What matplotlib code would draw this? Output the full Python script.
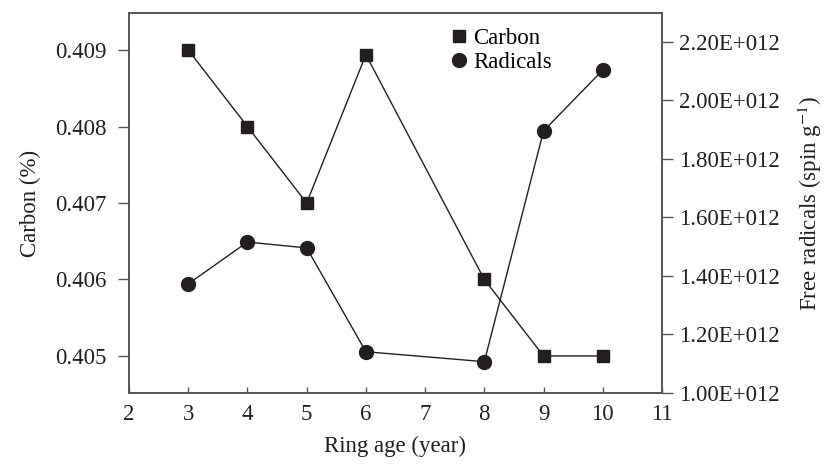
import matplotlib
matplotlib.use("Agg")
import matplotlib.pyplot as plt
from matplotlib.ticker import FuncFormatter, FixedLocator
from matplotlib.lines import Line2D

plt.rcParams["font.family"] = ["Liberation Serif", "DejaVu Serif"]
plt.rcParams["mathtext.fontset"] = "stix"

# Ring age (years)
ring_age_carbon = [3, 4, 5, 6, 8, 9, 10]
carbon_pct = [0.409, 0.408, 0.407, 0.40894, 0.406, 0.405, 0.405]

ring_age_radicals = [3, 4, 5, 6, 8, 9, 10]
radicals = [1.373e12, 1.516e12, 1.496e12, 1.141e12, 1.107e12, 1.896e12, 2.104e12]

x_ticks = [2, 3, 4, 5, 6, 7, 8, 9, 10, 11]
carbon_ticks = [0.405, 0.406, 0.407, 0.408, 0.409]
radical_ticks = [1.0e12, 1.2e12, 1.4e12, 1.6e12, 1.8e12, 2.0e12, 2.2e12]

ink = "#231f20"
spine_col = "#555555"
fs = 16.5

fig = plt.figure(figsize=(8.35, 4.66), dpi=100)
ax = fig.add_axes([0.1545, 0.1567, 0.7928 - 0.1545, 0.972 - 0.1567])
ax2 = ax.twinx()

ax.plot(ring_age_carbon, carbon_pct, color=ink, lw=1.0, marker="s",
        markersize=8.5, markerfacecolor=ink, markeredgecolor=ink, zorder=3)
ax2.plot(ring_age_radicals, radicals, color=ink, lw=1.0, marker="o",
         markersize=10, markerfacecolor=ink, markeredgecolor=ink, zorder=3)

ax.set_xlim(2, 11)
ax.set_ylim(0.404516, 0.409484)
ax2.set_ylim(1.0e12, 2.299e12)

ax.xaxis.set_major_locator(FixedLocator(x_ticks))
ax.yaxis.set_major_locator(FixedLocator(carbon_ticks))
ax.yaxis.set_major_formatter(FuncFormatter(lambda v, p: f"{v:.3f}"))
ax2.yaxis.set_major_locator(FixedLocator(radical_ticks))
ax2.yaxis.set_major_formatter(FuncFormatter(lambda v, p: f"{v/1e12:.2f}E+012"))

ax.tick_params(axis="x", direction="in", length=4, width=1, colors=spine_col,
               labelcolor=ink, labelsize=fs, pad=8)
ax.tick_params(axis="y", direction="out", length=8, width=1, colors=spine_col,
               labelcolor=ink, labelsize=fs, pad=8)
ax2.tick_params(axis="y", direction="out", length=8, width=1, colors=spine_col,
                labelcolor=ink, labelsize=fs, pad=4)

for a in (ax, ax2):
    for s in a.spines.values():
        s.set_color(spine_col)
        s.set_linewidth(1.2)

ax.set_xlabel("Ring age (year)", fontsize=fs, color=ink, labelpad=8)
ax.set_ylabel("Carbon (%)", fontsize=fs, color=ink, labelpad=10)
ax2.set_ylabel(r"Free radicals (spin g$^{-1}$)", fontsize=fs, color=ink, labelpad=12)

handles = [
    Line2D([], [], linestyle="none", marker="s", markersize=8.5, color=ink),
    Line2D([], [], linestyle="none", marker="o", markersize=10, color=ink),
]
ax2.legend(handles, ["Carbon", "Radicals"], loc="upper left",
           bbox_to_anchor=(0.57, 1.0), frameon=False, fontsize=fs,
           handletextpad=0.1, handlelength=1.0, labelspacing=0.15,
           borderaxespad=0.25)

fig.savefig("out.png", dpi=100)
